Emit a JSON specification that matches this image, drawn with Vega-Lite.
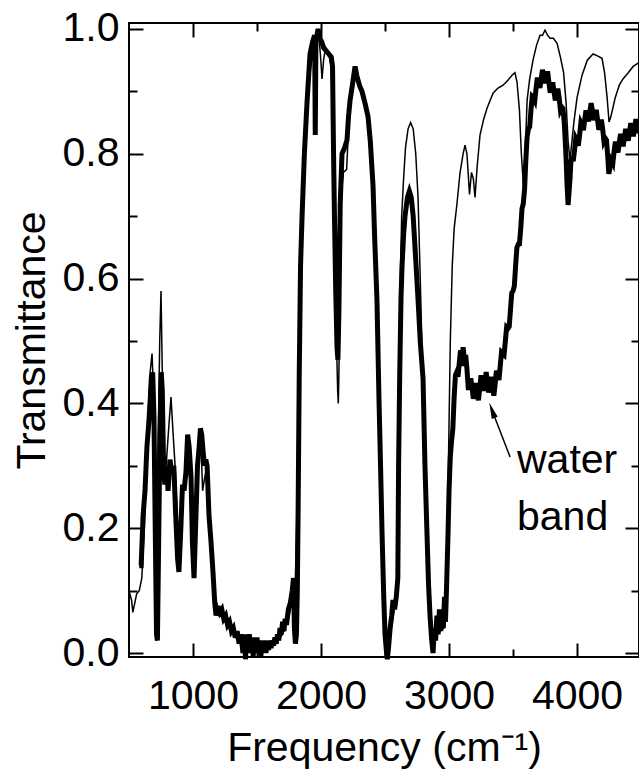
{
  "$schema": "https://vega.github.io/schema/vega-lite/v6.json",
  "width": 510,
  "height": 634,
  "autosize": {"type": "none"},
  "padding": {"left": 129, "top": 23, "right": 0, "bottom": 119},
  "background": "white",
  "config": {
    "view": {"stroke": "black", "strokeWidth": 2},
    "axis": {
      "domain": false,
      "grid": false,
      "tickColor": "black",
      "tickWidth": 2,
      "labelFont": "Liberation Sans",
      "labelFontSize": 41,
      "labelColor": "black",
      "titleFont": "Liberation Sans",
      "titleFontSize": 41,
      "titleFontWeight": "normal",
      "titleColor": "black"
    }
  },
  "datasets": {
    "thin": [
      {"f":500,"t":0.10},{"f":520,"t":0.085},{"f":530,"t":0.065},{"f":545,"t":0.08},{"f":560,"t":0.095},{"f":580,"t":0.10},{"f":600,"t":0.12},{"f":620,"t":0.20},{"f":640,"t":0.32},{"f":660,"t":0.44},{"f":680,"t":0.48},{"f":695,"t":0.40},{"f":710,"t":0.25},{"f":725,"t":0.30},{"f":740,"t":0.50},{"f":750,"t":0.58},{"f":760,"t":0.45},{"f":775,"t":0.32},{"f":790,"t":0.30},{"f":810,"t":0.36},{"f":828,"t":0.41},{"f":845,"t":0.35},{"f":860,"t":0.30},{"f":880,"t":0.20},{"f":895,"t":0.16},{"f":910,"t":0.22},{"f":930,"t":0.27},{"f":950,"t":0.30},{"f":965,"t":0.33},{"f":985,"t":0.27},{"f":1005,"t":0.13},{"f":1025,"t":0.22},{"f":1045,"t":0.32},{"f":1060,"t":0.35},{"f":1075,"t":0.26},{"f":1090,"t":0.28},{"f":1110,"t":0.30},{"f":1130,"t":0.22},{"f":1150,"t":0.14},{"f":1170,"t":0.09},{"f":1200,"t":0.07},{"f":1250,"t":0.05},{"f":1300,"t":0.035},{"f":1350,"t":0.02},{"f":1400,"t":0.012},{"f":1450,"t":0.01},{"f":1500,"t":0.008},{"f":1550,"t":0.01},{"f":1600,"t":0.012},{"f":1650,"t":0.018},{"f":1700,"t":0.03},{"f":1750,"t":0.06},{"f":1780,"t":0.09},{"f":1800,"t":0.12},{"f":1815,"t":0.25},{"f":1830,"t":0.50},{"f":1845,"t":0.68},{"f":1860,"t":0.78},{"f":1880,"t":0.86},{"f":1900,"t":0.90},{"f":1920,"t":0.94},{"f":1945,"t":0.97},{"f":1965,"t":0.99},{"f":1980,"t":0.995},{"f":1995,"t":0.96},{"f":2008,"t":0.92},{"f":2020,"t":0.95},{"f":2035,"t":0.97},{"f":2060,"t":0.96},{"f":2080,"t":0.94},{"f":2090,"t":0.85},{"f":2100,"t":0.70},{"f":2115,"t":0.55},{"f":2130,"t":0.42},{"f":2135,"t":0.40},{"f":2140,"t":0.45},{"f":2150,"t":0.62},{"f":2160,"t":0.74},{"f":2175,"t":0.77},{"f":2200,"t":0.775},{"f":2215,"t":0.84},{"f":2230,"t":0.89},{"f":2250,"t":0.92},{"f":2270,"t":0.935},{"f":2290,"t":0.92},{"f":2320,"t":0.90},{"f":2345,"t":0.88},{"f":2370,"t":0.85},{"f":2390,"t":0.80},{"f":2410,"t":0.74},{"f":2430,"t":0.62},{"f":2445,"t":0.50},{"f":2460,"t":0.40},{"f":2475,"t":0.22},{"f":2490,"t":0.10},{"f":2505,"t":0.03},{"f":2520,"t":0.0},{"f":2535,"t":0.02},{"f":2550,"t":0.04},{"f":2565,"t":0.06},{"f":2580,"t":0.08},{"f":2595,"t":0.12},{"f":2605,"t":0.35},{"f":2615,"t":0.55},{"f":2630,"t":0.70},{"f":2645,"t":0.76},{"f":2660,"t":0.81},{"f":2680,"t":0.84},{"f":2700,"t":0.85},{"f":2720,"t":0.84},{"f":2740,"t":0.80},{"f":2758,"t":0.73},{"f":2775,"t":0.60},{"f":2790,"t":0.48},{"f":2805,"t":0.35},{"f":2820,"t":0.22},{"f":2835,"t":0.12},{"f":2850,"t":0.06},{"f":2870,"t":0.03},{"f":2900,"t":0.03},{"f":2930,"t":0.035},{"f":2960,"t":0.04},{"f":2975,"t":0.06},{"f":2985,"t":0.12},{"f":2995,"t":0.30},{"f":3010,"t":0.50},{"f":3025,"t":0.62},{"f":3040,"t":0.68},{"f":3062,"t":0.72},{"f":3086,"t":0.77},{"f":3110,"t":0.80},{"f":3125,"t":0.814},{"f":3140,"t":0.80},{"f":3160,"t":0.735},{"f":3175,"t":0.77},{"f":3190,"t":0.76},{"f":3203,"t":0.73},{"f":3220,"t":0.78},{"f":3242,"t":0.83},{"f":3270,"t":0.855},{"f":3297,"t":0.873},{"f":3320,"t":0.885},{"f":3344,"t":0.897},{"f":3380,"t":0.905},{"f":3422,"t":0.91},{"f":3460,"t":0.918},{"f":3492,"t":0.926},{"f":3515,"t":0.93},{"f":3531,"t":0.915},{"f":3550,"t":0.87},{"f":3565,"t":0.80},{"f":3580,"t":0.752},{"f":3595,"t":0.80},{"f":3610,"t":0.886},{"f":3630,"t":0.92},{"f":3656,"t":0.95},{"f":3685,"t":0.975},{"f":3711,"t":0.99},{"f":3730,"t":0.99},{"f":3750,"t":0.998},{"f":3770,"t":0.99},{"f":3790,"t":0.985},{"f":3815,"t":0.985},{"f":3844,"t":0.977},{"f":3870,"t":0.955},{"f":3895,"t":0.93},{"f":3915,"t":0.88},{"f":3930,"t":0.82},{"f":3945,"t":0.79},{"f":3960,"t":0.82},{"f":3975,"t":0.85},{"f":4000,"t":0.89},{"f":4039,"t":0.926},{"f":4080,"t":0.95},{"f":4125,"t":0.96},{"f":4160,"t":0.957},{"f":4195,"t":0.953},{"f":4215,"t":0.93},{"f":4235,"t":0.89},{"f":4250,"t":0.851},{"f":4265,"t":0.86},{"f":4297,"t":0.889},{"f":4330,"t":0.91},{"f":4359,"t":0.92},{"f":4400,"t":0.93},{"f":4438,"t":0.94},{"f":4484,"t":0.946}
    ],
    "thick": [
      {"f":580,"t":0.14},{"f":595,"t":0.14},{"f":610,"t":0.22},{"f":625,"t":0.26},{"f":640,"t":0.33},{"f":655,"t":0.37},{"f":670,"t":0.42},{"f":685,"t":0.45},{"f":695,"t":0.38},{"f":705,"t":0.20},{"f":715,"t":0.03},{"f":722,"t":0.02},{"f":730,"t":0.15},{"f":742,"t":0.35},{"f":752,"t":0.45},{"f":760,"t":0.42},{"f":770,"t":0.30},{"f":780,"t":0.27},{"f":795,"t":0.30},{"f":805,"t":0.26},{"f":820,"t":0.31},{"f":835,"t":0.29},{"f":850,"t":0.30},{"f":865,"t":0.22},{"f":880,"t":0.15},{"f":890,"t":0.13},{"f":905,"t":0.20},{"f":918,"t":0.27},{"f":930,"t":0.26},{"f":945,"t":0.29},{"f":958,"t":0.35},{"f":970,"t":0.33},{"f":985,"t":0.28},{"f":995,"t":0.18},{"f":1008,"t":0.12},{"f":1020,"t":0.20},{"f":1035,"t":0.30},{"f":1048,"t":0.33},{"f":1058,"t":0.36},{"f":1068,"t":0.35},{"f":1080,"t":0.32},{"f":1090,"t":0.30},{"f":1100,"t":0.31},{"f":1110,"t":0.30},{"f":1125,"t":0.22},{"f":1140,"t":0.18},{"f":1156,"t":0.13},{"f":1170,"t":0.08},{"f":1180,"t":0.06},{"f":1195,"t":0.075},{"f":1210,"t":0.065},{"f":1225,"t":0.07},{"f":1240,"t":0.055},{"f":1255,"t":0.06},{"f":1270,"t":0.045},{"f":1285,"t":0.05},{"f":1300,"t":0.035},{"f":1315,"t":0.04},{"f":1330,"t":0.025},{"f":1345,"t":0.035},{"f":1360,"t":0.015},{"f":1375,"t":0.03},{"f":1390,"t":0.0},{"f":1400,"t":0.03},{"f":1410,"t":-0.01},{"f":1420,"t":0.025},{"f":1430,"t":0.005},{"f":1440,"t":0.03},{"f":1450,"t":0.0},{"f":1460,"t":0.025},{"f":1470,"t":-0.005},{"f":1480,"t":0.02},{"f":1490,"t":0.005},{"f":1500,"t":0.025},{"f":1510,"t":0.0},{"f":1520,"t":0.02},{"f":1530,"t":-0.005},{"f":1540,"t":0.015},{"f":1550,"t":0.005},{"f":1560,"t":0.02},{"f":1570,"t":0.0},{"f":1580,"t":0.018},{"f":1590,"t":0.005},{"f":1600,"t":0.02},{"f":1610,"t":0.008},{"f":1620,"t":0.02},{"f":1630,"t":0.012},{"f":1640,"t":0.025},{"f":1650,"t":0.015},{"f":1660,"t":0.03},{"f":1670,"t":0.02},{"f":1680,"t":0.04},{"f":1690,"t":0.03},{"f":1700,"t":0.05},{"f":1710,"t":0.035},{"f":1720,"t":0.055},{"f":1730,"t":0.045},{"f":1745,"t":0.07},{"f":1760,"t":0.08},{"f":1775,"t":0.10},{"f":1785,"t":0.12},{"f":1792,"t":0.04},{"f":1800,"t":0.015},{"f":1808,"t":0.03},{"f":1815,"t":0.10},{"f":1822,"t":0.25},{"f":1830,"t":0.45},{"f":1840,"t":0.62},{"f":1852,"t":0.70},{"f":1870,"t":0.80},{"f":1890,"t":0.88},{"f":1914,"t":0.96},{"f":1935,"t":0.98},{"f":1950,"t":0.99},{"f":1955,"t":0.83},{"f":1960,"t":0.98},{"f":1977,"t":1.0},{"f":1990,"t":0.985},{"f":2005,"t":0.98},{"f":2020,"t":0.97},{"f":2040,"t":0.965},{"f":2060,"t":0.96},{"f":2080,"t":0.955},{"f":2090,"t":0.94},{"f":2098,"t":0.80},{"f":2105,"t":0.70},{"f":2115,"t":0.58},{"f":2125,"t":0.49},{"f":2132,"t":0.47},{"f":2140,"t":0.55},{"f":2150,"t":0.72},{"f":2164,"t":0.80},{"f":2185,"t":0.81},{"f":2203,"t":0.822},{"f":2215,"t":0.86},{"f":2227,"t":0.886},{"f":2245,"t":0.91},{"f":2266,"t":0.94},{"f":2280,"t":0.925},{"f":2300,"t":0.91},{"f":2320,"t":0.90},{"f":2345,"t":0.88},{"f":2367,"t":0.86},{"f":2385,"t":0.82},{"f":2406,"t":0.75},{"f":2420,"t":0.66},{"f":2437,"t":0.566},{"f":2453,"t":0.405},{"f":2465,"t":0.30},{"f":2477,"t":0.19},{"f":2490,"t":0.09},{"f":2500,"t":0.03},{"f":2510,"t":0.005},{"f":2518,"t":-0.01},{"f":2528,"t":0.01},{"f":2540,"t":0.04},{"f":2552,"t":0.06},{"f":2562,"t":0.085},{"f":2575,"t":0.07},{"f":2588,"t":0.09},{"f":2600,"t":0.12},{"f":2606,"t":0.30},{"f":2615,"t":0.45},{"f":2625,"t":0.57},{"f":2633,"t":0.62},{"f":2645,"t":0.67},{"f":2656,"t":0.70},{"f":2675,"t":0.73},{"f":2690,"t":0.74},{"f":2705,"t":0.73},{"f":2720,"t":0.70},{"f":2740,"t":0.63},{"f":2758,"t":0.566},{"f":2775,"t":0.50},{"f":2797,"t":0.44},{"f":2812,"t":0.30},{"f":2828,"t":0.19},{"f":2840,"t":0.11},{"f":2852,"t":0.058},{"f":2865,"t":0.02},{"f":2875,"t":0.0},{"f":2885,"t":0.04},{"f":2895,"t":0.02},{"f":2905,"t":0.06},{"f":2915,"t":0.03},{"f":2925,"t":0.07},{"f":2935,"t":0.035},{"f":2945,"t":0.065},{"f":2955,"t":0.04},{"f":2965,"t":0.09},{"f":2972,"t":0.05},
      {"f":2980,"t":0.10},{"f":2992,"t":0.19},{"f":3000,"t":0.26},{"f":3010,"t":0.315},{"f":3020,"t":0.34},{"f":3030,"t":0.36},{"f":3040,"t":0.41},{"f":3050,"t":0.445},{"f":3060,"t":0.45},{"f":3070,"t":0.4425},{"f":3080,"t":0.465},{"f":3090,"t":0.485},{"f":3100,"t":0.46},{"f":3110,"t":0.49},{"f":3120,"t":0.47},{"f":3130,"t":0.4775},{"f":3140,"t":0.455},{"f":3150,"t":0.425},{"f":3160,"t":0.425},{"f":3170,"t":0.44},{"f":3180,"t":0.425},{"f":3190,"t":0.4075},{"f":3200,"t":0.42},{"f":3210,"t":0.4325},{"f":3220,"t":0.415},{"f":3230,"t":0.405},{"f":3240,"t":0.425},{"f":3250,"t":0.445},{"f":3260,"t":0.435},{"f":3270,"t":0.42},{"f":3280,"t":0.435},{"f":3290,"t":0.45},{"f":3300,"t":0.435},{"f":3310,"t":0.4175},{"f":3320,"t":0.43},{"f":3330,"t":0.4425},{"f":3340,"t":0.425},{"f":3350,"t":0.4125},{"f":3360,"t":0.43},{"f":3370,"t":0.4525},{"f":3380,"t":0.445},{"f":3390,"t":0.4375},{"f":3400,"t":0.46},{"f":3410,"t":0.482},{"f":3420,"t":0.48},{"f":3430,"t":0.478},{"f":3440,"t":0.50},{"f":3450,"t":0.522},{"f":3460,"t":0.52},{"f":3470,"t":0.523},{"f":3480,"t":0.55},{"f":3490,"t":0.577},{"f":3500,"t":0.58},{"f":3510,"t":0.588},{"f":3520,"t":0.62},{"f":3530,"t":0.6495},{"f":3540,"t":0.655},{"f":3550,"t":0.6555},{"f":3560,"t":0.68},{"f":3570,"t":0.712},{"f":3580,"t":0.72},{"f":3590,"t":0.743},{"f":3600,"t":0.79},{"f":3610,"t":0.827},{"f":3620,"t":0.84},{"f":3630,"t":0.843},{"f":3640,"t":0.87},{"f":3650,"t":0.892},{"f":3660,"t":0.89},{"f":3670,"t":0.8855},{"f":3680,"t":0.905},{"f":3690,"t":0.922},{"f":3700,"t":0.915},{"f":3710,"t":0.9055},{"f":3720,"t":0.92},{"f":3730,"t":0.9345},{"f":3740,"t":0.925},{"f":3750,"t":0.913},{"f":3760,"t":0.925},{"f":3770,"t":0.932},{"f":3780,"t":0.915},{"f":3790,"t":0.898},{"f":3800,"t":0.905},{"f":3810,"t":0.9145},{"f":3820,"t":0.90},{"f":3830,"t":0.8855},{"f":3840,"t":0.895},{"f":3850,"t":0.9045},{"f":3860,"t":0.89},{"f":3870,"t":0.8705},{"f":3880,"t":0.875},{"f":3890,"t":0.8725},{"f":3900,"t":0.85},{"f":3908,"t":0.82},{"f":3915,"t":0.79},{"f":3922,"t":0.75},{"f":3930,"t":0.718},{"f":3938,"t":0.74},{"f":3945,"t":0.76},{"f":3952,"t":0.7875},{"f":3960,"t":0.795},{"f":3970,"t":0.788},{"f":3980,"t":0.805},{"f":3990,"t":0.8245},{"f":4000,"t":0.82},{"f":4010,"t":0.813},{"f":4020,"t":0.83},{"f":4030,"t":0.8495},{"f":4040,"t":0.845},{"f":4050,"t":0.838},{"f":4060,"t":0.855},{"f":4070,"t":0.8695},{"f":4080,"t":0.86},{"f":4090,"t":0.852},{"f":4100,"t":0.868},{"f":4110,"t":0.881},{"f":4120,"t":0.87},{"f":4130,"t":0.854},{"f":4140,"t":0.862},{"f":4150,"t":0.8705},{"f":4160,"t":0.855},{"f":4170,"t":0.8385},{"f":4180,"t":0.846},{"f":4190,"t":0.855},{"f":4200,"t":0.84},{"f":4210,"t":0.8205},{"f":4220,"t":0.825},{"f":4230,"t":0.822},{"f":4240,"t":0.795},{"f":4248,"t":0.768},{"f":4255,"t":0.775},{"f":4262,"t":0.7925},{"f":4270,"t":0.79},{"f":4280,"t":0.7855},{"f":4290,"t":0.805},{"f":4300,"t":0.8195},{"f":4310,"t":0.81},{"f":4320,"t":0.802},{"f":4330,"t":0.818},{"f":4340,"t":0.832},{"f":4350,"t":0.822},{"f":4360,"t":0.812},{"f":4370,"t":0.826},{"f":4380,"t":0.84},{"f":4390,"t":0.83},{"f":4400,"t":0.821},{"f":4410,"t":0.836},{"f":4420,"t":0.849},{"f":4430,"t":0.838},{"f":4440,"t":0.828},{"f":4450,"t":0.842},{"f":4460,"t":0.8555},{"f":4470,"t":0.845},{"f":4477,"t":0.833},{"f":4484,"t":0.846}
    ]
  },
  "layer": [
    {
      "data": {"name": "thin"},
      "mark": {"type": "line", "color": "black", "strokeWidth": 1.5},
      "encoding": {
        "x": {
          "field": "f", "type": "quantitative",
          "scale": {"domain": [500, 4484], "nice": false, "zero": false},
          "axis": {
            "orient": "bottom",
            "values": [1000, 1500, 2000, 2500, 3000, 3500, 4000],
            "format": "d",
            "labelExpr": "datum.value % 1000 === 0 ? datum.label : ''",
            "tickSize": {"condition": {"test": "datum.value % 1000 === 0", "value": -14}, "value": -8},
            "labelPadding": 33,
            "title": "Frequency (cm⁻¹)",
            "titlePadding": 12
          }
        },
        "y": {
          "field": "t", "type": "quantitative",
          "scale": {"domain": [-0.0064, 1.0096], "nice": false, "zero": false},
          "axis": {
            "orient": "left",
            "values": [0, 0.1, 0.2, 0.3, 0.4, 0.5, 0.6, 0.7, 0.8, 0.9, 1.0],
            "labelExpr": "round(datum.value * 10) % 2 === 0 ? format(datum.value, '.1f') : ''",
            "tickSize": {"condition": {"test": "round(datum.value * 10) % 2 === 0", "value": -14}, "value": -8},
            "labelPadding": 24,
            "title": "Transmittance",
            "titlePadding": 9
          }
        }
      }
    },
    {
      "data": {"name": "thick"},
      "mark": {"type": "line", "color": "black", "strokeWidth": 5, "strokeJoin": "miter"},
      "encoding": {
        "x": {
          "field": "f", "type": "quantitative",
          "axis": {
            "orient": "top",
            "values": [1000, 1500, 2000, 2500, 3000, 3500, 4000],
            "labels": false,
            "title": null,
            "tickSize": {"condition": {"test": "datum.value % 1000 === 0", "value": -14}, "value": -8}
          }
        },
        "y": {
          "field": "t", "type": "quantitative",
          "axis": {
            "orient": "right",
            "values": [0, 0.1, 0.2, 0.3, 0.4, 0.5, 0.6, 0.7, 0.8, 0.9, 1.0],
            "labels": false,
            "title": null,
            "tickSize": {"condition": {"test": "round(datum.value * 10) % 2 === 0", "value": -14}, "value": -8}
          }
        }
      }
    },
    {
      "data": {"values": [{"f": 3477, "t": 0.314, "f2": 3336, "t2": 0.389}]},
      "mark": {"type": "rule", "color": "black", "strokeWidth": 1.5},
      "encoding": {
        "x": {"field": "f", "type": "quantitative", "axis": null},
        "y": {"field": "t", "type": "quantitative", "axis": null},
        "x2": {"field": "f2"},
        "y2": {"field": "t2"}
      }
    },
    {
      "data": {"values": [{"f": 3336, "t": 0.389}]},
      "mark": {"type": "point", "shape": "M0,-1L0.4,1L-0.4,1Z", "filled": true, "color": "black", "opacity": 1, "size": 256, "angle": -20},
      "encoding": {
        "x": {"field": "f", "type": "quantitative", "axis": null},
        "y": {"field": "t", "type": "quantitative", "axis": null}
      }
    },
    {
      "data": {"values": [{"f": 3531, "t": 0.288, "label": "water"}, {"f": 3531, "t": 0.197, "label": "band"}]},
      "mark": {"type": "text", "align": "left", "baseline": "alphabetic", "font": "Liberation Sans", "fontSize": 41, "color": "black"},
      "encoding": {
        "x": {"field": "f", "type": "quantitative", "axis": null},
        "y": {"field": "t", "type": "quantitative", "axis": null},
        "text": {"field": "label"}
      }
    }
  ],
  "resolve": {"axis": {"x": "independent", "y": "independent"}}
}
